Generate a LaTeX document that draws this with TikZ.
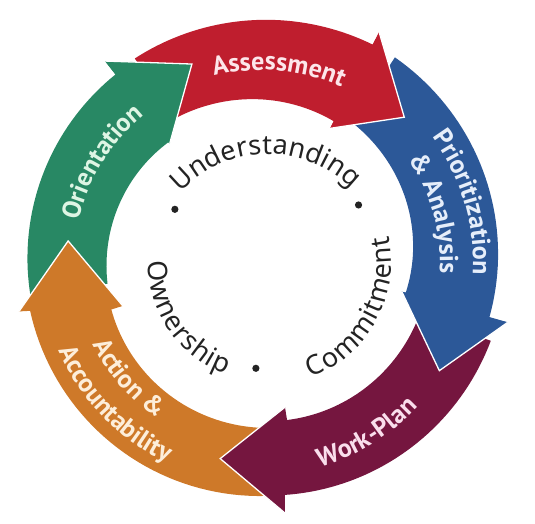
\documentclass[tikz,border=0pt]{standalone}
\usepackage{fontspec}
\usetikzlibrary{decorations.text}
\newfontfamily\labfont{PT Sans}
\newfontfamily\ringfont{Noto Sans}
\newfontfamily\ringsp{Noto Sans}[WordSpace=0.36]
\definecolor{cgreen}{RGB}{40,136,100}
\definecolor{cred}{RGB}{191,30,46}
\definecolor{cblue}{RGB}{44,88,152}
\definecolor{cpurple}{RGB}{117,22,63}
\definecolor{corange}{RGB}{206,121,41}
\definecolor{tgreen}{RGB}{222,245,228}
\definecolor{tred}{RGB}{253,230,234}
\definecolor{tblue}{RGB}{230,238,250}
\definecolor{tpurple}{RGB}{250,222,236}
\definecolor{torange}{RGB}{253,238,218}
\definecolor{ink}{RGB}{35,35,35}
\tikzset{headline/.style={draw=white,line width=1.3pt,line join=miter}}
\begin{document}
\begin{tikzpicture}[x=1pt,y=1pt]
\useasboundingbox (0,0) rectangle (535,524);
\begin{scope}[shift={(262,262)}]
% full arrows
\fill[cgreen] plot[domain=188:128,samples=40] (\x:{234-(\x-188)/15}) -- (128:255) -- (109.5:210) -- (128:150)
  -- plot[domain=128:188,samples=40] (\x:{152+(\x-128)/15}) -- cycle;
\fill[cred] plot[domain=122:63,samples=40] (\x:{240-4*(\x-122)/59}) -- (63:258) -- (45.5:203) -- (63:150)
  -- plot[domain=63:122,samples=40] (\x:{158+10*(\x-63)/59}) -- cycle;
\fill[cblue] plot[domain=57:-13.8,samples=40] (\x:{244+10*(\x-57)/70.8}) -- (-13.8:253) -- (-31.5:208) -- (-12:143)
  -- plot[domain=-12:57,samples=40] (\x:{147+19*(\x+12)/69}) -- cycle;
\fill[cpurple] plot[domain=-19:-84.8,samples=40] (\x:{242+8*(\x+19)/65.8}) -- (-84.8:252) -- (-102:201) -- (-81:147)
  -- plot[domain=-81:-19,samples=40] (\x:{160+6*(\x+81)/62}) -- cycle;
\fill[corange] plot[domain=271:191.5,samples=40] (\x:{234-3*(\x-271)/79.5}) -- (191.5:248) -- (173.8:195) -- (197.5:146)
  -- plot[domain=197.5:271,samples=40] (\x:{158+8*(\x-197.5)/73.5}) -- cycle;
% heads on top
\fill[cgreen] (128:255) -- (109.5:210) -- (128:150) -- cycle;
\draw[headline] (128:255) -- (109.5:210) -- (128:150);
\fill[cred] (63:258) -- (45.5:203) -- (63:150) -- cycle;
\draw[headline] (63:258) -- (45.5:203) -- (63:150);
\fill[cblue] (-13.8:253) -- (-31.5:208) -- (-12:143) -- cycle;
\draw[headline] (-13.8:253) -- (-31.5:208) -- (-12:143);
\fill[cpurple] (-84.8:252) -- (-102:201) -- (-81:147) -- cycle;
\draw[headline] (-84.8:252) -- (-102:201) -- (-81:147);
\fill[corange] (191.5:248) -- (173.8:195) -- (197.5:146) -- cycle;
\draw[headline] (191.5:248) -- (173.8:195) -- (197.5:146);
% labels
\path[decorate,decoration={text along path,text align=center,text color=tgreen,
  text={|\labfont\bfseries\fontsize{26}{26}\selectfont|Orientation}}]
  (198:188) arc[start angle=198,end angle=98,radius=188];
\path[decorate,decoration={text along path,text align=center,text color=tred,
  text={|\labfont\bfseries\fontsize{26}{26}\selectfont|Assessment}}]
  (135:192) arc[start angle=135,end angle=35,radius=192];
\path[decorate,decoration={text along path,text align=center,text color=tblue,
  text={|\labfont\bfseries\fontsize{26}{26}\selectfont|Prioritization}}]
  (66.5:211) arc[start angle=66.5,end angle=-33.5,radius=211];
\path[decorate,decoration={text along path,text align=center,text color=tblue,
  text={|\labfont\bfseries\fontsize{26}{26}\selectfont|{\&} Analysis}}]
  (65.7:178) arc[start angle=65.7,end angle=-34.3,radius=178];
\path[decorate,decoration={text along path,text align=center,text color=tpurple,
  text={|\labfont\bfseries\fontsize{26}{26}\selectfont|Work-Plan}}]
  (-108.5:213) arc[start angle=-108.5,end angle=-8.5,radius=213];
\path[decorate,decoration={text along path,text align=center,text color=torange,
  text={|\labfont\bfseries\fontsize{26}{26}\selectfont|Action {\&}}}]
  (171:188) arc[start angle=171,end angle=271,radius=188];
\path[decorate,decoration={text along path,text align=center,text color=torange,
  text={|\labfont\bfseries\fontsize{26}{26}\selectfont|Accountability}}]
  (174:222) arc[start angle=174,end angle=274,radius=222];
\end{scope}
\begin{scope}[shift={(268,252)}]
\path[decorate,decoration={text along path,text align=center,text color=ink,
  text={|\ringfont\fontsize{27}{27}\selectfont|Understanding}}]
  (171.3:118) arc[start angle=171.3,end angle=11.3,radius=118];
\end{scope}
\begin{scope}[shift={(268,262)}]
\path[decorate,decoration={text along path,text align=center,text color=ink,
  text={|\ringsp\fontsize{27}{27}\selectfont|C o m m i t m e n t}}]
  (-108.75:123) arc[start angle=-108.75,end angle=51.25,radius=123];
\path[decorate,decoration={text along path,text align=center,text color=ink,
  text={|\ringsp\fontsize{27}{27}\selectfont|O w n e r s h i p}}]
  (134.5:120) arc[start angle=134.5,end angle=294.5,radius=120];
\fill[ink] (150.5:107) circle[radius=3.6] (32.2:107) circle[radius=3.6] (263.5:107) circle[radius=3.6];
\end{scope}
\end{tikzpicture}
\end{document}
